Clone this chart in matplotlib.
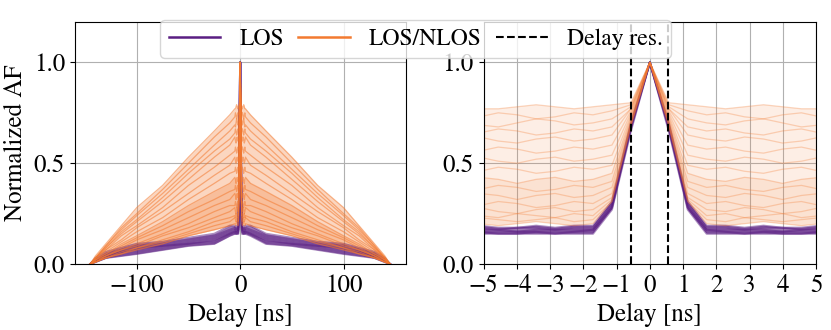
import numpy as np
import matplotlib
matplotlib.use("Agg")
import matplotlib.pyplot as plt
from matplotlib.lines import Line2D

plt.rcParams['font.family'] = 'serif'
plt.rcParams['font.serif'] = ['STIXGeneral', 'Liberation Serif', 'DejaVu Serif']
plt.rcParams['mathtext.fontset'] = 'stix'
plt.rcParams['font.size'] = 18

# delays (ns) on the positive side, the AF is symmetric so it gets mirrored
delay_half = [0, 0.57, 1.14, 1.71, 2.28, 2.85, 3.42, 3.99, 4.56, 5.13,
              10, 25, 50, 75, 100, 115, 130, 140, 145]
delay_res = 0.56

los_traces = [
    [1.0, 0.70, 0.31, 0.19, 0.19, 0.18, 0.19, 0.18, 0.18, 0.19, 0.19, 0.15, 0.13, 0.11, 0.10, 0.08, 0.06, 0.03, 0.0],
    [1.0, 0.69, 0.30, 0.18, 0.18, 0.17, 0.18, 0.18, 0.17, 0.18, 0.17, 0.14, 0.12, 0.10, 0.09, 0.07, 0.05, 0.02, 0.0],
    [1.0, 0.68, 0.29, 0.17, 0.17, 0.17, 0.17, 0.16, 0.17, 0.17, 0.16, 0.13, 0.11, 0.09, 0.08, 0.06, 0.04, 0.02, 0.0],
    [1.0, 0.68, 0.28, 0.17, 0.16, 0.16, 0.16, 0.16, 0.16, 0.16, 0.15, 0.12, 0.10, 0.09, 0.07, 0.06, 0.04, 0.02, 0.0],
    [1.0, 0.67, 0.28, 0.16, 0.16, 0.15, 0.16, 0.15, 0.15, 0.16, 0.15, 0.11, 0.10, 0.08, 0.06, 0.05, 0.03, 0.01, 0.0],
    [1.0, 0.66, 0.27, 0.15, 0.15, 0.15, 0.15, 0.15, 0.15, 0.15, 0.14, 0.10, 0.09, 0.07, 0.05, 0.04, 0.03, 0.01, 0.0],
]

nlos_traces = [
    [1.0, 0.80, 0.79, 0.78, 0.77, 0.78, 0.79, 0.78, 0.77, 0.77, 0.74, 0.66, 0.53, 0.39, 0.28, 0.19, 0.10, 0.04, 0.0],
    [1.0, 0.79, 0.76, 0.74, 0.75, 0.73, 0.72, 0.74, 0.75, 0.73, 0.70, 0.63, 0.50, 0.37, 0.25, 0.18, 0.09, 0.03, 0.0],
    [1.0, 0.78, 0.72, 0.70, 0.69, 0.71, 0.72, 0.70, 0.68, 0.69, 0.66, 0.59, 0.47, 0.35, 0.24, 0.17, 0.09, 0.03, 0.0],
    [1.0, 0.77, 0.68, 0.66, 0.67, 0.65, 0.64, 0.66, 0.67, 0.65, 0.62, 0.56, 0.45, 0.33, 0.22, 0.16, 0.08, 0.03, 0.0],
    [1.0, 0.77, 0.64, 0.62, 0.61, 0.63, 0.62, 0.60, 0.61, 0.63, 0.59, 0.53, 0.42, 0.31, 0.21, 0.15, 0.08, 0.03, 0.0],
    [1.0, 0.76, 0.59, 0.57, 0.58, 0.56, 0.55, 0.57, 0.58, 0.56, 0.54, 0.48, 0.39, 0.28, 0.19, 0.14, 0.07, 0.03, 0.0],
    [1.0, 0.75, 0.54, 0.52, 0.51, 0.53, 0.52, 0.50, 0.51, 0.53, 0.49, 0.44, 0.35, 0.26, 0.18, 0.12, 0.07, 0.02, 0.0],
    [1.0, 0.74, 0.49, 0.47, 0.48, 0.46, 0.45, 0.47, 0.48, 0.46, 0.45, 0.40, 0.32, 0.23, 0.16, 0.11, 0.06, 0.02, 0.0],
    [1.0, 0.73, 0.45, 0.42, 0.41, 0.43, 0.42, 0.40, 0.42, 0.43, 0.40, 0.36, 0.29, 0.21, 0.14, 0.10, 0.05, 0.02, 0.0],
    [1.0, 0.72, 0.41, 0.38, 0.39, 0.37, 0.36, 0.38, 0.39, 0.37, 0.36, 0.32, 0.26, 0.19, 0.13, 0.09, 0.05, 0.02, 0.0],
    [1.0, 0.71, 0.38, 0.34, 0.33, 0.35, 0.34, 0.32, 0.34, 0.35, 0.32, 0.29, 0.23, 0.17, 0.12, 0.08, 0.04, 0.02, 0.0],
    [1.0, 0.70, 0.35, 0.30, 0.31, 0.29, 0.28, 0.30, 0.31, 0.29, 0.29, 0.26, 0.20, 0.15, 0.10, 0.07, 0.04, 0.01, 0.0],
    [1.0, 0.70, 0.33, 0.27, 0.26, 0.28, 0.27, 0.25, 0.26, 0.28, 0.26, 0.23, 0.18, 0.14, 0.09, 0.07, 0.04, 0.01, 0.0],
    [1.0, 0.69, 0.32, 0.24, 0.25, 0.23, 0.24, 0.25, 0.23, 0.24, 0.23, 0.21, 0.16, 0.12, 0.08, 0.06, 0.03, 0.01, 0.0],
    [1.0, 0.69, 0.31, 0.22, 0.21, 0.23, 0.22, 0.21, 0.22, 0.23, 0.21, 0.19, 0.15, 0.11, 0.08, 0.05, 0.03, 0.01, 0.0],
    [1.0, 0.68, 0.31, 0.20, 0.19, 0.20, 0.21, 0.20, 0.19, 0.20, 0.19, 0.17, 0.14, 0.10, 0.07, 0.05, 0.03, 0.01, 0.0],
]

c_los = '#5a1e82'
c_nlos = '#f37a30'


def mirror(v):
    v = list(v)
    return np.array(v[::-1] + v[1:])


delay = np.concatenate([-np.array(delay_half[::-1]), np.array(delay_half[1:])])
los = np.array([mirror(t) for t in los_traces])
nlos = np.array([mirror(t) for t in nlos_traces])

fig = plt.figure(figsize=(8.31, 3.30), dpi=100)
ax1 = fig.add_axes([0.090, 0.200, 0.398, 0.733])
ax2 = fig.add_axes([0.582, 0.200, 0.400, 0.733])

# left panel is dense (lines squeezed), right panel is lighter
styles = {ax1: (0.30, 0.25, 0.55), ax2: (0.12, 0.10, 0.30)}

for ax in (ax1, ax2):
    a_fill, a_low, a_line = styles[ax]
    ax.fill_between(delay, los.min(axis=0), los.max(axis=0), color=c_los, alpha=0.6, lw=0)
    for t in los:
        ax.plot(delay, t, color=c_los, lw=1.5, alpha=0.5)
    ax.fill_between(delay, nlos.min(axis=0), nlos.max(axis=0), color=c_nlos, alpha=a_fill, lw=0)
    ax.fill_between(delay, nlos.min(axis=0), nlos[8], color=c_nlos, alpha=a_low, lw=0)
    for t in nlos:
        ax.plot(delay, t, color=c_nlos, lw=0.9, alpha=a_line)
    ax.set_ylim(0, 1.2)
    ax.set_yticks([0, 0.5, 1.0])
    ax.set_xlabel('Delay [ns]')
    ax.grid(True)
    ax.set_axisbelow(True)

ax1.set_xlim(-160, 160)
ax1.set_xticks([-100, 0, 100])
ax1.set_ylabel('Normalized AF')

ax2.set_xlim(-5, 5)
ax2.set_xticks(np.arange(-5, 6, 1))
ax2.axvline(-delay_res, color='black', ls='--', lw=1.5)
ax2.axvline(delay_res, color='black', ls='--', lw=1.5)

handles = [Line2D([], [], color=c_los, lw=1.8),
           Line2D([], [], color=c_nlos, lw=1.8),
           Line2D([], [], color='black', ls='--', lw=1.5)]
fig.legend(handles, ['LOS', 'LOS/NLOS', 'Delay res.'], loc='upper center',
           bbox_to_anchor=(0.5, 0.975), ncol=3, fontsize=17,
           handlelength=2.2, handletextpad=0.8, columnspacing=0.6,
           borderpad=0.35)

fig.savefig('out.png', dpi=100)
